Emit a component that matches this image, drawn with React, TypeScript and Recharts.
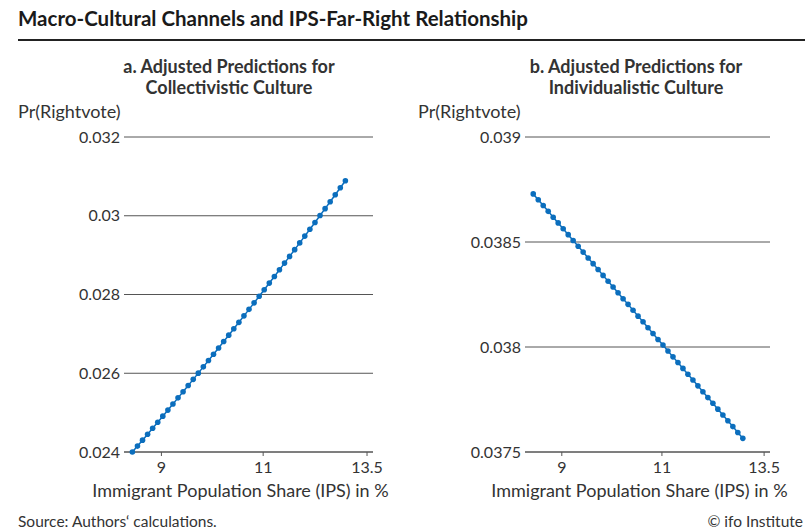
import { CartesianGrid, Label, Line, LineChart, XAxis, YAxis } from "recharts";

// immigrant population share (%), evenly spaced on the log axis
const ipsValues = [
  8.499, 8.585, 8.671, 8.758, 8.846, 8.935, 9.025, 9.116, 9.207, 9.3, 9.393,
  9.488, 9.583, 9.679, 9.776, 9.875, 9.974, 10.074, 10.176, 10.278, 10.381,
  10.486, 10.591, 10.697, 10.805, 10.914, 11.023, 11.134, 11.246, 11.359,
  11.473, 11.588, 11.705, 11.822, 11.941, 12.061, 12.183, 12.305, 12.429,
  12.554, 12.68, 12.807, 12.936,
];

const collectivisticPr = [
  0.024, 0.02415, 0.024301, 0.024452, 0.024604, 0.024757, 0.02491, 0.025064,
  0.025219, 0.025375, 0.025531, 0.025688, 0.025845, 0.026003, 0.026162,
  0.026322, 0.026482, 0.026643, 0.026805, 0.026967, 0.02713, 0.027293,
  0.027458, 0.027623, 0.027788, 0.027955, 0.028122, 0.02829, 0.028458,
  0.028627, 0.028797, 0.028968, 0.029139, 0.029311, 0.029483, 0.029656,
  0.02983, 0.030005, 0.03018, 0.030356, 0.030533, 0.03071, 0.030888,
];

const individualisticPr = [
  0.038729, 0.038701, 0.038674, 0.038646, 0.038618, 0.038591, 0.038563,
  0.038535, 0.038507, 0.03848, 0.038452, 0.038424, 0.038397, 0.038369,
  0.038341, 0.038313, 0.038286, 0.038258, 0.03823, 0.038203, 0.038175,
  0.038147, 0.03812, 0.038092, 0.038064, 0.038036, 0.038009, 0.037981,
  0.037953, 0.037926, 0.037898, 0.03787, 0.037843, 0.037815, 0.037787,
  0.037759, 0.037732, 0.037704, 0.037676, 0.037649, 0.037621, 0.037593,
  0.037565,
];

const xTicks = [9, 11, 13.5];
const collectivisticTicks = [0.024, 0.026, 0.028, 0.03, 0.032];
const individualisticTicks = [0.0375, 0.038, 0.0385, 0.039];

const FONT = "Lato, 'Open Sans', sans-serif";
const BLUE = "#0b6ebd";
const INK = "#333";

function Panel({
  left,
  titleCenter,
  title,
  values,
  yTicks,
  marginLeft,
  marginRight,
}: {
  left: number;
  titleCenter: number;
  title: string[];
  values: number[];
  yTicks: number[];
  marginLeft: number;
  marginRight: number;
}) {
  const data = ipsValues.map((ips, i) => ({ ips, pr: values[i] }));
  return (
    <>
      <div
        style={{
          position: "absolute",
          left: titleCenter - 200,
          top: 56,
          width: 400,
          textAlign: "center",
          fontWeight: 700,
          fontSize: 18,
          lineHeight: "21px",
          color: INK,
        }}
      >
        {title.map((t) => (
          <div key={t}>{t}</div>
        ))}
      </div>
      <div
        style={{
          position: "absolute",
          left: left + 18,
          top: 100,
          fontSize: 18,
          lineHeight: "22px",
          color: INK,
        }}
      >
        Pr(Rightvote)
      </div>
      <div style={{ position: "absolute", left, top: 0 }}>
        <LineChart
          width={400}
          height={505}
          data={data}
          margin={{ top: 137, right: marginRight, bottom: 0, left: marginLeft }}
        >
          <CartesianGrid vertical={false} stroke="#555" />
          <XAxis
            dataKey="ips"
            type="number"
            scale="log"
            domain={[8.36, 13.66]}
            allowDataOverflow
            ticks={xTicks}
            tickSize={4}
            tickMargin={6}
            height={53}
            stroke="#555"
            tick={{ fill: INK, fontSize: 16, fontFamily: FONT }}
          >
            <Label
              value="Immigrant Population Share (IPS) in %"
              position="insideBottom"
              dx={-8}
              offset={8}
              style={{ fill: INK, fontSize: 18, fontFamily: FONT }}
            />
          </XAxis>
          <YAxis
            type="number"
            domain={[yTicks[0], yTicks[yTicks.length - 1]]}
            ticks={yTicks}
            width={60}
            axisLine={false}
            tickLine={false}
            tickSize={0}
            tickMargin={4}
            tick={{ fill: INK, fontSize: 16, fontFamily: FONT }}
          />
          <Line
            dataKey="pr"
            stroke={BLUE}
            strokeWidth={1.5}
            dot={{ r: 2.8, fill: BLUE, stroke: "none" }}
            isAnimationActive={false}
          />
        </LineChart>
      </div>
    </>
  );
}

export default function App() {
  return (
    <div
      style={{
        position: "absolute",
        left: 0,
        top: 0,
        width: 808,
        height: 531,
        background: "#fff",
        fontFamily: FONT,
        overflow: "hidden",
      }}
    >
      <div
        style={{
          position: "absolute",
          left: 18,
          top: 6,
          fontSize: 20.5,
          lineHeight: "24px",
          fontWeight: 700,
          color: "#1a1a1a",
        }}
      >
        Macro-Cultural Channels and IPS-Far-Right Relationship
      </div>
      <div
        style={{
          position: "absolute",
          left: 18,
          top: 39,
          width: 787,
          height: 2,
          background: "#222",
        }}
      />
      <Panel
        left={0}
        titleCenter={229}
        title={["a. Adjusted Predictions for", "Collectivistic Culture"]}
        values={collectivisticPr}
        yTicks={collectivisticTicks}
        marginLeft={64}
        marginRight={27}
      />
      <Panel
        left={400}
        titleCenter={636}
        title={["b. Adjusted Predictions for", "Individualistic Culture"]}
        values={individualisticPr}
        yTicks={individualisticTicks}
        marginLeft={65}
        marginRight={30}
      />
      <div
        style={{
          position: "absolute",
          left: 18,
          top: 512,
          fontSize: 15.5,
          lineHeight: "18px",
          color: INK,
        }}
      >
        Source: Authors‘ calculations.
      </div>
      <div
        style={{
          position: "absolute",
          right: 5,
          top: 512,
          fontSize: 15.5,
          lineHeight: "18px",
          color: INK,
        }}
      >
        © ifo Institute
      </div>
    </div>
  );
}
